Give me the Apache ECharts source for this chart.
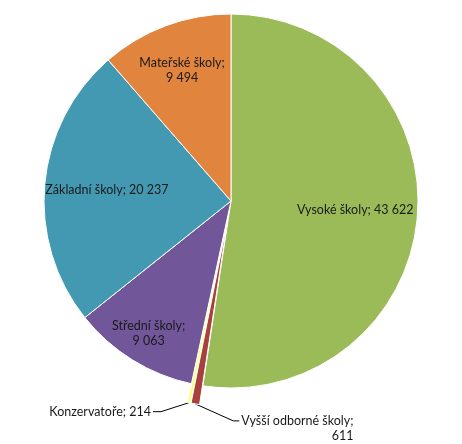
<!DOCTYPE html>
<html>
<head>
<meta charset="utf-8">
<script src="https://cdn.jsdelivr.net/npm/echarts@6/dist/echarts.min.js"></script>
<style>
  html, body { margin: 0; padding: 0; background: #fff; }
  #chart { width: 462px; height: 444px; }
</style>
</head>
<body>
<div id="chart"></div>
<script>
// data (clockwise from 12 o'clock)
const categories = ['Vysoké školy', 'Vyšší odborné školy', 'Konzervatoře', 'Střední školy', 'Základní školy', 'Mateřské školy'];
const values = [43622, 611, 214, 9063, 20237, 9494];
const colors = ['#9BBB59', '#A8413C', '#FFFF66', '#72569A', '#4399B2', '#E0843E'];

const R = 187;
const center = [231, 201];
const font = { fontFamily: 'Lato', fontSize: 12.5, color: '#1a1a1a' };

// thousands with a space, like "43 622"
const fmt = (v) => String(v).replace(/\B(?=(\d{3})+(?!\d))/g, ' ');
// which labels wrap onto two lines
const wrap = [false, true, false, true, false, true];
const labelText = (i) => categories[i] + ';' + (wrap[i] ? '\n' : ' ') + fmt(values[i]);

const small = [1, 2]; // slices pulled out, labelled outside

const chart = echarts.init(document.getElementById('chart'));

// transparent copy of the pie, only used to place inside labels;
// the label sits halfway between inner and R
function labelSeries(inner, show) {
  return {
    type: 'pie',
    silent: true,
    center: center,
    radius: [inner, R],
    startAngle: 90,
    clockwise: true,
    animation: false,
    itemStyle: { color: 'rgba(0,0,0,0)', borderWidth: 0 },
    labelLine: { show: false },
    emphasis: { disabled: true },
    data: categories.map((c, i) => ({
      name: c,
      value: values[i],
      label: {
        show: show.includes(i),
        position: 'inside',
        formatter: () => labelText(i),
        lineHeight: 15,
        ...font,
      },
    })),
  };
}

chart.setOption({
  animation: false,
  series: [
    {
      type: 'pie',
      center: center,
      radius: [0, R],
      startAngle: 90,
      clockwise: true,
      selectedMode: 'multiple',
      selectedOffset: 19,
      itemStyle: { borderColor: '#fff', borderWidth: 1 },
      select: { itemStyle: { borderColor: '#fff', borderWidth: 1 } },
      emphasis: { disabled: true },
      data: categories.map((c, i) => ({
        name: c,
        value: values[i],
        selected: small.includes(i),
        itemStyle: { color: colors[i] },
        label: {
          show: small.includes(i),
          position: 'outside',
          overflow: 'none',
          formatter: () => labelText(i),
          align: 'center',
          lineHeight: 15,
          ...font,
        },
        labelLine: {
          show: small.includes(i),
          length: 4,
          length2: 10,
          lineStyle: { color: '#000', width: 1 },
        },
      })),
      labelLayout: function (p) {
        // leader lines as in the original: slant away from the slice, then a short flat end
        if (!p.labelLinePoints) return;
        const [x0, y0] = p.labelLinePoints[0];
        const r = p.labelRect;
        if (p.dataIndex === 2) {
          return {
            dx: x0 - 38 - r.width - r.x,
            dy: y0 + 9 - (r.y + r.height / 2),
            labelLinePoints: [[x0, y0], [x0 - 28, y0 + 9], [x0 - 36, y0 + 9]],
          };
        }
        if (p.dataIndex === 1) {
          return {
            dx: x0 + 46 - r.x,
            dy: y0 + 10 - r.y,
            labelLinePoints: [[x0, y0], [x0 + 38, y0 + 17], [x0 + 44, y0 + 17]],
          };
        }
      },
    },
    labelSeries(R * 0.3, [0, 4]),
    labelSeries(R * 0.46, [5]),
    labelSeries(R * 0.64, [3]),
  ],
});
</script>
</body>
</html>
